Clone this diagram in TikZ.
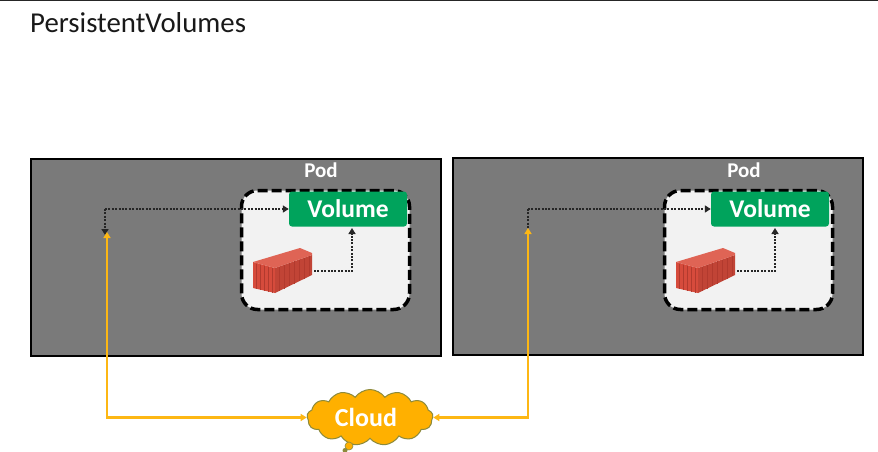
\documentclass[tikz,border=0pt]{standalone}
\usepackage{fontspec}
\setmainfont{Carlito}
\usetikzlibrary{shapes.symbols,arrows.meta,calc}
\definecolor{podgrey}{HTML}{7A7A7A}
\definecolor{volgreen}{HTML}{00A35C}
\definecolor{cloudor}{HTML}{FFB000}
\definecolor{cloudedge}{HTML}{8C8A3C}
\definecolor{wireor}{HTML}{FDB714}
\definecolor{boxred}{HTML}{D64B3C}
\definecolor{boxdark}{HTML}{B23A2E}
\definecolor{boxlight}{HTML}{DF6455}
\tikzset{
 x=1pt,y=-1pt,
 podbox/.style={draw=black,line width=2pt,fill=podgrey,inner sep=0pt,minimum width=410pt,minimum height=197pt},
 innerbox/.style={draw=black,line width=3.5pt,fill=white!95!black,rounded corners=16pt,dash pattern=on 10pt off 4pt,inner sep=0pt,minimum width=168pt,minimum height=119pt},
 volbox/.style={fill=volgreen,rounded corners=3pt,text=white,font=\bfseries\fontsize{25.5}{25.5}\selectfont,inner sep=0pt,minimum width=118pt,minimum height=35pt},
 podlabel/.style={text=white,font=\bfseries\fontsize{21}{21}\selectfont,inner sep=0pt},
 dotwire/.style={draw=black!85,line width=2pt,dash pattern=on 2pt off 1.4pt,-{Triangle[length=6pt,width=7pt]}},
 orwire/.style={draw=wireor,line width=2.6pt,-{Triangle[length=6pt,width=7pt]}},
 container/.pic={
  \fill[boxred] (0,15)--(22,21)--(22,46)--(0,41)--cycle;
  \fill[boxred!90!black] (22,21)--(59,8)--(59,28)--(22,46)--cycle;
  \fill[boxlight] (0,15)--(47,1)--(59,6)--(59,8)--(22,21)--cycle;
  \foreach \i in {26,31,...,56}{\draw[boxdark,line width=.5pt] (\i,{21-(\i-22)*0.35})--(\i,{46-(\i-22)*0.49});}
  \foreach \i in {3,7,11,15,19}{\draw[boxdark,line width=.5pt] (\i,{16+\i*0.27})--(\i,{41.5+\i*0.23});}
 }
}
\begin{document}
\begin{tikzpicture}
\useasboundingbox (0,0) rectangle (878,452);
\fill[white] (0,0) rectangle (878,452);
\fill[black!85] (0,0) rectangle (878,1.2);
\node[anchor=base west,inner sep=0pt,font=\fontsize{28.8}{28.8}\selectfont,text=black!90] (title) at (30,33) {PersistentVolumes};

% left pod
\node[podbox] (podA) at (235.5,257.5) {};
\node[podlabel] (podAl) at (321,170) {Pod};
\node[innerbox] (inA) at (325.5,250) {};
\node[volbox] (volA) at (348,209) {Volume};
\pic at (253,247) {container};
\coordinate (boxA) at (314,271);
\coordinate (cornerA) at (105,209);
\coordinate (endA) at (105,235);
\coordinate (upA) at (107,232);

% right pod
\node[podbox] (podB) at (658,256.5) {};
\node[podlabel] (podBl) at (744,170) {Pod};
\node[innerbox] (inB) at (748.5,250) {};
\node[volbox] (volB) at (770,209) {Volume};
\pic at (676,247) {container};
\coordinate (boxB) at (737,271);
\coordinate (cornerB) at (528,209);
\coordinate (endB) at (528,228);

% cloud
\node[cloud,cloud puffs=13,cloud puff arc=110,aspect=2.3,draw=cloudedge,line width=1pt,fill=cloudor,text=white,
  font=\bfseries\fontsize{26}{26}\selectfont,inner sep=0pt,minimum width=126pt,minimum height=56pt] (cloud) at (370,417.5) {};
\node[text=white,font=\bfseries\fontsize{26}{26}\selectfont,inner sep=0pt] (cloudl) at (366,417.5) {Cloud};
\node[circle,fill=cloudor,draw=cloudedge,line width=.6pt,inner sep=0pt,minimum size=8pt] (bubA) at (349,446) {};
\node[circle,fill=cloudedge,inner sep=0pt,minimum size=5pt] (bubB) at (345,450.5) {};

% dotted connectors
\draw[dotwire] (endA |- cornerA) -- (volA.west);
\draw[dotwire] (volA.west -| cornerA) -- (endA);
\draw[dotwire] (boxA) -- (boxA -| 352,0) -- (352,228);
\draw[dotwire] (endB |- cornerB) -- (volB.west);
\draw[draw=black!85,line width=2pt,dash pattern=on 2pt off 1.4pt] (volB.west -| cornerB) -- (endB);
\draw[dotwire] (boxB) -- (boxB -| 775,0) -- (775,228);

% orange connectors
\draw[orwire,{Triangle[length=6pt,width=7pt]}-{Triangle[length=6pt,width=7pt]}] (cloud.west) -- (cloud.west -| upA) -- (upA);
\draw[orwire,{Triangle[length=6pt,width=7pt]}-{Triangle[length=6pt,width=7pt]}] (cloud.east) -- (cloud.east -| endB) -- (endB);
\end{tikzpicture}
\end{document}
